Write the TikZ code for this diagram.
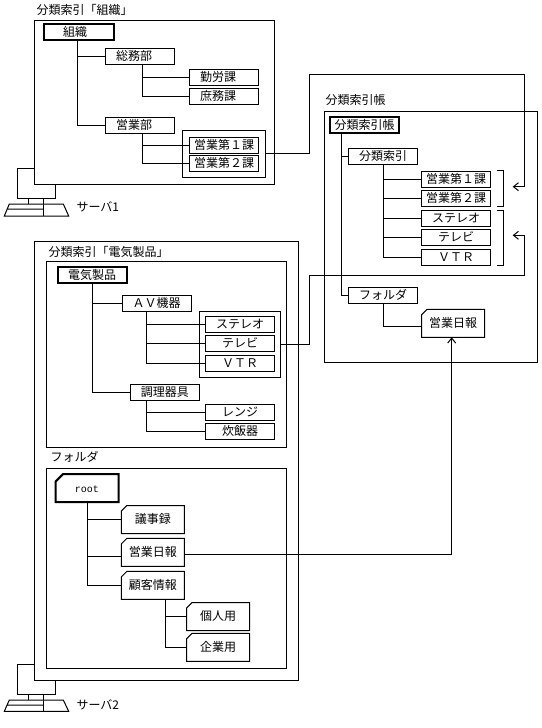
\documentclass[tikz,border=0pt]{standalone}
\usepackage{fontspec}
\setmainfont{Noto Sans CJK JP}
\setmonofont{Liberation Mono}
\usetikzlibrary{shapes.misc,arrows.meta}

\begin{document}
\begin{tikzpicture}[x=1pt, y=-1pt, line width=1pt,
			win/.style={rectangle, draw, inner sep=0pt, outer sep=0pt},
			box/.style={rectangle, draw, inner sep=0pt, outer sep=0pt, align=center,
				minimum width=69pt, minimum height=16pt, text height=10pt, text depth=2pt,
				font=\fontsize{12pt}{14pt}\selectfont},
			topbox/.style={box, line width=2pt},
			folder/.style={box, shape=chamfered rectangle, chamfered rectangle corners=north west,
				chamfered rectangle xsep=2.8pt, chamfered rectangle ysep=2.8pt, minimum width=63pt, minimum height=28pt},
			lefttext/.style={execute at end node={\hspace{12pt}}},
			lbl/.style={anchor=west, inner sep=0pt, font=\fontsize{12pt}{14pt}\selectfont},
			arr/.style={-{Straight Barb[length=5pt,width=8pt]}}]
			\useasboundingbox (0,0) rectangle (541,728);
			
			% Server 1
			\node[lbl] (titleA) at (36,10) {分類索引「組織」};
			\node[win, minimum width=240pt, minimum height=163.5pt] (winA) at (154.5,102.25) {};
			\node[topbox, minimum width=70pt, execute at end node={\hspace{8pt}}] (soshiki) at (79,32) {組織};
			\node[box, lefttext] (somu) at (140,56.5) {総務部};
			\node[box, lefttext] (eigyo) at (140,125.5) {営業部};
			\node[box, lefttext] (kinro) at (224,77.25) {勤労課};
			\node[box, lefttext] (shomu) at (224,96.5) {庶務課};
			\node[box] (daiA) at (224,145) {営業第１課};
			\node[box] (daiB) at (224,163.5) {営業第２課};
			\node[win, minimum width=83pt, minimum height=46.5pt] (grpA) at (224,153.75) {};
			\node[lbl] (serverA) at (76,207) {サーバ1};
			
			% Index book
			\node[lbl] (titleC) at (325,100) {分類索引帳};
			\node[win, minimum width=212.8pt, minimum height=251pt] (winC) at (430.9,236.8) {};
			\node[topbox, minimum width=69.5pt] (book) at (364.7,125.2) {分類索引帳};
			\node[box] (index) at (383,156.3) {分類索引};
			\node[box] (holder) at (383,295.7) {フォルダ};
			\node[box] (bookA) at (456,179.5) {営業第１課};
			\node[box] (bookB) at (456,198.5) {営業第２課};
			\node[box] (bookC) at (456,218.3) {ステレオ};
			\node[box] (bookD) at (456,237.2) {テレビ};
			\node[box] (bookE) at (456,257.3) {ＶＴＲ};
			\node[folder] (nippoA) at (453,323.3) {営業日報};
			\coordinate (tipA) at (512.7,186.7);
			\coordinate (tipB) at (512.7,235.3);
			
			% Server 2
			\node[win, minimum width=263.8pt, minimum height=439pt] (winB) at (166.4,460.5) {};
			\node[lbl] (titleB) at (48,252) {分類索引「電気製品」};
			\node[win, minimum width=240pt, minimum height=186.3pt] (panelA) at (166.7,354.2) {};
			\node[topbox] (denki) at (92.2,275.3) {電気製品};
			\node[box] (av) at (156.5,303.7) {ＡＶ機器};
			\node[box] (chori) at (164.8,392.3) {調理器具};
			\node[box] (stereo) at (240,324.5) {ステレオ};
			\node[box] (tv) at (240,343.5) {テレビ};
			\node[box] (vtr) at (240,363.3) {ＶＴＲ};
			\node[box] (range) at (240,412.2) {レンジ};
			\node[box] (rice) at (240,431.3) {炊飯器};
			\node[win, minimum width=81.4pt, minimum height=66.4pt] (grpB) at (240,344.5) {};
			\node[lbl] (titleD) at (50,457) {フォルダ};
			\node[win, minimum width=240.7pt, minimum height=200pt] (panelB) at (166.4,568.3) {};
			\node[folder, line width=2pt, chamfered rectangle xsep=3.8pt, chamfered rectangle ysep=3.8pt, font=\ttfamily\fontsize{10pt}{12pt}\selectfont] (root) at (87,488) {root};
			\node[folder] (giji) at (152.8,519.5) {議事録};
			\node[folder] (nippoB) at (152.8,552.3) {営業日報};
			\node[folder] (kokyaku) at (152.8,585.3) {顧客情報};
			\node[folder] (kojin) at (218,616.5) {個人用};
			\node[folder] (kigyo) at (218,647.3) {企業用};
			\node[lbl] (serverB) at (76,705) {サーバ2};
			
			% Trees
			\draw ([xshift=-1.5pt]soshiki.south) |- (somu.west);
			\draw ([xshift=-1.5pt]soshiki.south) |- (eigyo.west);
			\draw ([xshift=2.5pt]somu.south) |- (kinro.west);
			\draw ([xshift=2.5pt]somu.south) |- (shomu.west);
			\draw ([xshift=2.5pt]eigyo.south) |- (daiA.west);
			\draw ([xshift=2.5pt]eigyo.south) |- (daiB.west);
			\draw ([xshift=-23pt]book.south) |- (index.west);
			\draw ([xshift=-23pt]book.south) |- (holder.west);
			\draw (index.south) |- (bookA.west);
			\draw (index.south) |- (bookB.west);
			\draw (index.south) |- (bookC.west);
			\draw (index.south) |- (bookD.west);
			\draw (index.south) |- (bookE.west);
			\draw (holder.south) |- ([yshift=-2.7pt]nippoA.west);
			\draw (denki.south) |- (av.west);
			\draw (denki.south) |- (chori.west);
			\draw ([xshift=-9.8pt]av.south) |- (stereo.west);
			\draw ([xshift=-9.8pt]av.south) |- (tv.west);
			\draw ([xshift=-9.8pt]av.south) |- (vtr.west);
			\draw ([xshift=-18.1pt]chori.south) |- (range.west);
			\draw ([xshift=-18.1pt]chori.south) |- (rice.west);
			\draw (root.south) |- (giji.west);
			\draw (root.south) |- ([yshift=-4.4pt]nippoB.west);
			\draw (root.south) |- (kokyaku.west);
			\draw ([xshift=13pt]kokyaku.south) |- (kojin.west);
			\draw ([xshift=13pt]kokyaku.south) |- (kigyo.west);
			
			% Links between servers
			\draw[arr] (grpA.east) -| (309,74.3) -- (524.3,74.3) |- (tipA);
			\draw[arr] (grpB.east) -| (309,275.3) -- (524.3,275.3) |- (tipB);
			\draw[arr] ([yshift=-1.7pt]nippoB.east) -| ([xshift=-1.3pt]nippoA.south);
			
			% Brackets
			\draw (496.7,170) -- (503.3,170) -- (503.3,206.3) -- (496.7,206.3);
			\draw (496.7,210.3) -- (503.3,210.3) -- (503.3,265.3) -- (496.7,265.3);
			
			% Computers
			\draw (34.5,168) -- (17.3,168) -- (17.3,198) -- (55.7,198) -- (55.7,184);
			\draw (28.3,198) -- (28.3,204) (43.3,198) -- (43.3,216);
			\draw (9.3,204) -- (63.3,204) -- (68.7,216) -- (4.3,216) -- cycle (7,209) -- (43.3,209);
			\draw (34.5,664.3) -- (17.3,664.3) -- (17.3,694.3) -- (55.7,694.3) -- (55.7,680);
			\draw (28.3,694.3) -- (28.3,700) (43.3,694.3) -- (43.3,711.3);
			\draw (9.3,700) -- (63.3,700) -- (68.7,711.3) -- (4.3,711.3) -- cycle (7,705) -- (43.3,705);
		\end{tikzpicture}
\end{document}
